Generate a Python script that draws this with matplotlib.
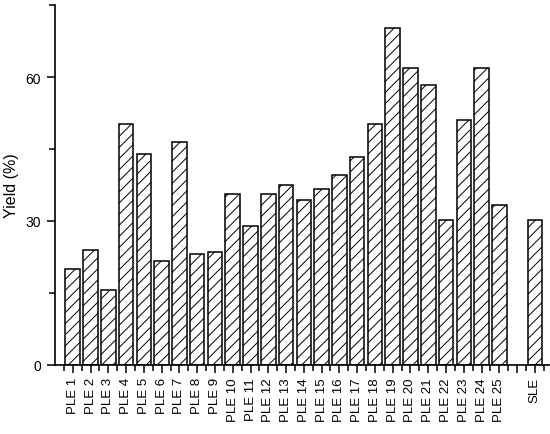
import numpy as np
import matplotlib
matplotlib.use('Agg')
import matplotlib.pyplot as plt
from matplotlib.ticker import MultipleLocator, FixedLocator

plt.rcParams['font.family'] = ['Liberation Sans', 'DejaVu Sans']
plt.rcParams['hatch.linewidth'] = 0.7

# dados (rendimento em %)
categorias = ['PLE %d' % i for i in range(1, 26)] + ['', 'SLE']
rendimento = [20.0, 23.9, 15.5, 50.3, 43.9, 21.6, 46.4, 23.1, 23.6, 35.7,
              29.0, 35.7, 37.6, 34.3, 36.6, 39.7, 43.3, 50.3, 70.2, 61.9,
              58.4, 30.2, 51.1, 61.9, 33.4, np.nan, 30.2]

fig = plt.figure(figsize=(5.5, 4.35), dpi=100)
ax = fig.add_axes([0.1, 0.1593, 0.9, 0.826])

pos = np.arange(1, len(categorias) + 1)
ax.bar(pos, rendimento, width=0.82, facecolor='white', edgecolor='black',
       linewidth=1.1, hatch='///')

ax.set_xlim(0, 27.85)
ax.set_ylim(0, 75)

ax.set_xticks(pos)
ax.set_xticklabels(categorias, rotation=90, fontsize=9.5)
ax.xaxis.set_minor_locator(FixedLocator(np.arange(0.5, 28, 1)))

ax.yaxis.set_major_locator(MultipleLocator(30))
ax.yaxis.set_minor_locator(MultipleLocator(15))
ax.tick_params(axis='y', labelsize=10, pad=4.5)

ax.tick_params(which='major', direction='out', length=5.5, width=1.1)
ax.tick_params(which='minor', direction='out', length=4, width=1.1)

ax.spines['top'].set_visible(False)
ax.spines['right'].set_visible(False)
for s in ['left', 'bottom']:
    ax.spines[s].set_linewidth(1.2)

ax.set_ylabel('Yield (%)', fontsize=11.5, labelpad=5)

plt.savefig('out.png', dpi=100)
